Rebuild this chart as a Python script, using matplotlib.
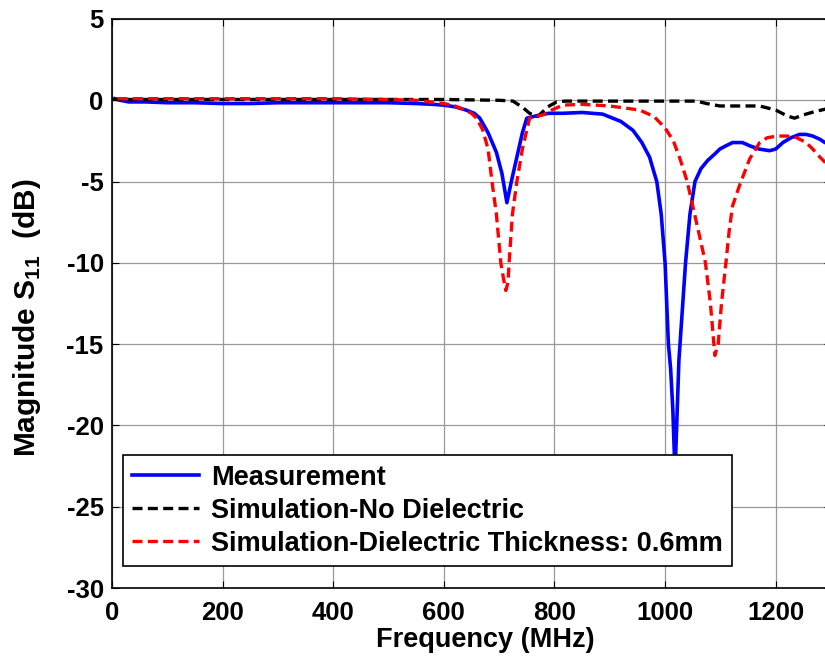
import numpy as np
import matplotlib
matplotlib.use('Agg')
import matplotlib.pyplot as plt

plt.rcParams['font.family'] = ['Liberation Sans', 'DejaVu Sans']
plt.rcParams['font.weight'] = 'bold'
plt.rcParams['mathtext.fontset'] = 'custom'
plt.rcParams['mathtext.rm'] = 'Liberation Sans:bold'
plt.rcParams['mathtext.bf'] = 'Liberation Sans:bold'
plt.rcParams['axes.unicode_minus'] = False

# medicion (linea azul)
f_meas = [5, 15, 30, 60, 100, 150, 200, 250, 300, 350, 400, 450, 500, 550, 580,
          600, 620, 640, 655, 665, 680, 695, 705, 714, 722, 734, 742, 750, 762,
          774, 790, 815, 850, 887, 920, 942, 958, 972, 978, 985, 993, 1000, 1006,
          1010, 1014, 1018, 1022, 1025, 1031, 1037, 1045, 1054, 1065, 1077, 1090,
          1099, 1110, 1122, 1140, 1153, 1170, 1189, 1200, 1213, 1228, 1243, 1255,
          1267, 1280, 1289, 1300]
s_meas = [0.1, 0.0, -0.1, -0.1, -0.15, -0.15, -0.2, -0.2, -0.15, -0.15, -0.15,
          -0.15, -0.15, -0.2, -0.25, -0.3, -0.4, -0.6, -0.8, -1.1, -2.0, -3.2,
          -4.5, -6.3, -5.0, -3.2, -2.0, -1.1, -1.0, -0.9, -0.8, -0.8, -0.75,
          -0.85, -1.3, -1.85, -2.6, -3.5, -4.2, -5.0, -7.0, -10, -15, -16.5, -19,
          -23, -19, -16, -13, -10, -7, -5, -4.2, -3.7, -3.3, -3.0, -2.8, -2.6,
          -2.6, -2.8, -3.0, -3.1, -3.0, -2.6, -2.3, -2.1, -2.1, -2.2, -2.4, -2.6,
          -2.7]

# simulacion sin dielectrico (negro)
f_nodiel = [0, 200, 400, 600, 700, 725, 743, 755, 770, 788, 804, 820, 900, 1000,
            1057, 1075, 1099, 1140, 1171, 1200, 1220, 1234, 1250, 1270, 1289, 1300]
s_nodiel = [0.05, 0.05, 0.05, 0.05, 0.0, -0.05, -0.45, -0.8, -1.0, -0.4, -0.1,
            -0.05, -0.05, -0.05, -0.05, -0.2, -0.35, -0.35, -0.35, -0.6, -0.95,
            -1.1, -0.9, -0.7, -0.55, -0.45]

# simulacion con dielectrico 0.6mm (rojo)
f_diel = [10, 100, 200, 300, 400, 500, 550, 575, 600, 620, 635, 650, 659, 670,
          680, 687, 695, 703, 708, 712, 716, 718, 724, 732, 742, 755, 765, 779,
          795, 815, 850, 900, 954, 980, 1000, 1015, 1027, 1040, 1050, 1060, 1073,
          1082, 1090, 1096, 1102, 1110, 1116, 1122, 1135, 1153, 1171, 1185, 1202,
          1220, 1238, 1255, 1267, 1280, 1289, 1300]
s_diel = [0.1, 0.1, 0.1, 0.1, 0.1, 0.05, 0.0, -0.1, -0.2, -0.35, -0.55, -0.8,
          -1.1, -1.8, -3.0, -5.0, -7.0, -10, -11.0, -11.7, -11.2, -10, -7.0, -5.0,
          -3.0, -1.1, -1.0, -0.9, -0.6, -0.3, -0.25, -0.35, -0.6, -1.0, -1.7,
          -2.5, -3.6, -5.0, -6.5, -8.0, -10, -12.5, -15.7, -15.0, -12.5, -10,
          -8.0, -6.5, -5.2, -3.6, -2.6, -2.3, -2.2, -2.2, -2.3, -2.6, -3.0, -3.5,
          -3.8, -4.3]

xticks = [0, 200, 400, 600, 800, 1000, 1200]
yticks = [-30, -25, -20, -15, -10, -5, 0, 5]

fig = plt.figure(figsize=(8.25, 6.6), dpi=100)
ax = fig.add_axes([112/825, 72/660, 719/825, 569/660])

ax.plot(f_meas, s_meas, color='#0000ff', lw=2.6, label='Measurement')
ax.plot(f_nodiel, s_nodiel, color='black', lw=2.4, ls=(0, (3, 1.6)),
        label='Simulation-No Dielectric')
ax.plot(f_diel, s_diel, color='#ff0000', lw=2.4, ls=(0, (3, 1.6)),
        label='Simulation-Dielectric Thickness: 0.6mm')

ax.set_xlim(0, 1300)
ax.set_ylim(-30, 5)
ax.set_xticks(xticks)
ax.set_yticks(yticks)
ax.grid(True, color='0.6', lw=0.9)
ax.tick_params(direction='in', labelsize=18.5, length=5, top=True, right=True)
ax.tick_params(axis='x', pad=9)
ax.tick_params(axis='y', pad=6)
for s in ax.spines.values():
    s.set_linewidth(1.2)

ax.set_xlabel('Frequency (MHz)', fontsize=19.5, fontweight='bold')
ax.xaxis.set_label_coords(0.519, -0.068)
ax.set_ylabel(r'Magnitude S$_{\mathbf{11}}$  (dB)', fontsize=21.5,
              fontweight='bold')
ax.yaxis.set_label_coords(-0.096, 0.475)

leg = ax.legend(loc='lower left', bbox_to_anchor=(0.0153, 0.0387),
                borderaxespad=0, fontsize=19.5, fancybox=False, framealpha=1,
                edgecolor='black', handlelength=2.45, handletextpad=0.45,
                borderpad=0.35, labelspacing=0.25)
leg.get_frame().set_linewidth(1.2)
leg.set_zorder(10)

plt.savefig('out.png', dpi=100)
